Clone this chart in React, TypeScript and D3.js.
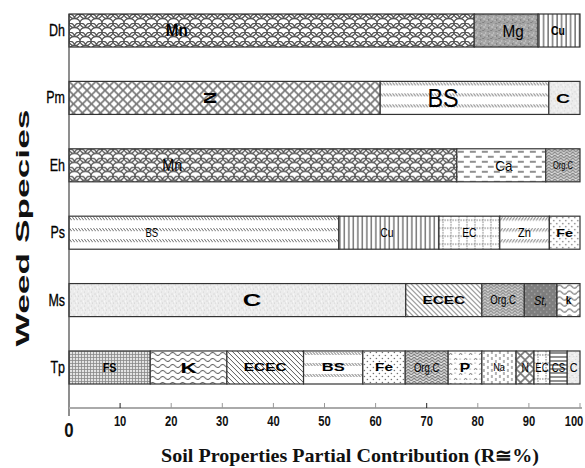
import React from "react";
import * as d3 from "d3";

const species = ["Dh", "Pm", "Eh", "Ps", "Ms", "Tp"];

const dhProps = ["Mn", "Mg", "Cu"];
const dhValues = [79.3, 12.5, 8.2];
const pmProps = ["N", "BS", "C"];
const pmValues = [60.9, 33.0, 6.1];
const ehProps = ["Mn", "Ca", "Org.C"];
const ehValues = [75.9, 17.4, 6.7];
const psProps = ["BS", "Cu", "EC", "Zn", "Fe"];
const psValues = [52.8, 19.6, 11.9, 9.7, 6.0];
const msProps = ["C", "ECEC", "Org.C", "St,", "k"];
const msValues = [65.9, 14.9, 8.3, 6.4, 4.5];
const tpProps = ["FS", "K", "ECEC", "BS", "Fe", "Org.C", "P", "Na", "N", "EC", "CS", "C"];
const tpValues = [15.9, 15.0, 15.0, 11.6, 8.3, 8.4, 6.6, 6.7, 3.5, 3.1, 3.4, 2.5];

const xTicks = [10, 20, 30, 40, 50, 60, 70, 80, 90, 100];

const propSets: Record<string, string[]> = { Dh: dhProps, Pm: pmProps, Eh: ehProps, Ps: psProps, Ms: msProps, Tp: tpProps };
const valueSets: Record<string, number[]> = { Dh: dhValues, Pm: pmValues, Eh: ehValues, Ps: psValues, Ms: msValues, Tp: tpValues };

// label styling (layout only)
type LS = { size: number; sx?: number; bold?: boolean; at?: number; rot?: number; italic?: boolean };
const labelStyle: Record<string, LS> = {
  "Dh:Mn": { size: 16, sx: 0.95, bold: true, at: 21.1 },
  "Dh:Mg": { size: 17, sx: 0.9, at: 86.9 },
  "Dh:Cu": { size: 13, sx: 0.8, bold: true, at: 95.7 },
  "Pm:N": { size: 17, bold: true, at: 27.6, rot: 90 },
  "Pm:BS": { size: 26, sx: 0.9, at: 73.2 },
  "Pm:C": { size: 13, sx: 1.5, bold: true, at: 96.7 },
  "Eh:Mn": { size: 16, sx: 0.9, at: 20.2 },
  "Eh:Ca": { size: 15, sx: 0.9, at: 85.1 },
  "Eh:Org.C": { size: 10, sx: 0.75 },
  "Ps:BS": { size: 12, sx: 0.8, at: 16.2 },
  "Ps:Cu": { size: 13, sx: 0.8, at: 62.2 },
  "Ps:EC": { size: 13, sx: 0.8 },
  "Ps:Zn": { size: 13, sx: 0.85 },
  "Ps:Fe": { size: 11, sx: 1.3, bold: true },
  "Ms:C": { size: 16, sx: 1.6, bold: true, at: 35.8 },
  "Ms:ECEC": { size: 11, sx: 1.4, bold: true },
  "Ms:Org.C": { size: 12, sx: 0.8 },
  "Ms:St,": { size: 13, sx: 0.85, italic: true },
  "Ms:k": { size: 10, bold: true },
  "Tp:FS": { size: 12, sx: 0.9, bold: true },
  "Tp:K": { size: 14, sx: 1.6, bold: true },
  "Tp:ECEC": { size: 11, sx: 1.4, bold: true },
  "Tp:BS": { size: 11, sx: 1.5, bold: true },
  "Tp:Fe": { size: 11, sx: 1.4, bold: true },
  "Tp:Org.C": { size: 12, sx: 0.8 },
  "Tp:P": { size: 12, sx: 1.3, bold: true },
  "Tp:Na": { size: 10, sx: 0.9 },
  "Tp:N": { size: 12, sx: 0.85 },
  "Tp:EC": { size: 12, sx: 0.8 },
  "Tp:CS": { size: 12, sx: 0.8 },
  "Tp:C": { size: 12, sx: 0.9 },
};

const patKey = (p: string) => {
  if (p === "St,") return "St";
  if (p === "k") return "K";
  return p.replace(/\./g, "");
};

const Patterns = () => (
  <defs>
    <pattern id="p-Mn" patternUnits="userSpaceOnUse" width="11" height="9">
      <path d="M-5.5 4.5 A5.5 4.5 0 0 1 5.5 4.5 A5.5 4.5 0 0 1 16.5 4.5 M0 9 A5.5 4.5 0 0 1 11 9 M0 0 A5.5 4.5 0 0 0 11 0" fill="none" stroke="#555" strokeWidth="1.3" />
    </pattern>
    <pattern id="p-Mg" patternUnits="userSpaceOnUse" width="8" height="8">
      <rect width="8" height="8" fill="#a4a4a4" />
      <rect x="0" y="0" width="2" height="1" fill="#808080" />
      <rect x="3" y="2" width="1" height="2" fill="#c4c4c4" />
      <rect x="5" y="1" width="2" height="1" fill="#8a8a8a" />
      <rect x="1" y="4" width="2" height="2" fill="#bdbdbd" />
      <rect x="6" y="5" width="1" height="2" fill="#7a7a7a" />
      <rect x="4" y="6" width="2" height="1" fill="#b8b8b8" />
      <rect x="2" y="7" width="1" height="1" fill="#858585" />
      <rect x="7" y="3" width="1" height="1" fill="#cccccc" />
    </pattern>
    <pattern id="p-Cu" patternUnits="userSpaceOnUse" width="4.5" height="4">
      <line x1="1" y1="0" x2="1" y2="4" stroke="#333" strokeWidth="1" />
    </pattern>
    <pattern id="p-N" patternUnits="userSpaceOnUse" width="9" height="9">
      <path d="M0 0 L9 9 M9 0 L0 9" stroke="#777" strokeWidth="1.6" />
    </pattern>
    <pattern id="p-BS" patternUnits="userSpaceOnUse" width="3" height="11">
      <line x1="0.3" y1="1" x2="2.7" y2="4" stroke="#666" strokeWidth="1" />
    </pattern>
    <pattern id="p-Zn" patternUnits="userSpaceOnUse" width="3" height="11">
      <line x1="2.7" y1="1" x2="0.3" y2="4.5" stroke="#666" strokeWidth="1" />
    </pattern>
    <pattern id="p-C" patternUnits="userSpaceOnUse" width="7" height="7">
      <rect width="7" height="7" fill="#ececec" />
      <rect x="1" y="1" width="1" height="1" fill="#d4d4d4" />
      <rect x="4" y="3" width="2" height="1" fill="#dadada" />
      <rect x="2" y="5" width="1" height="1" fill="#cfcfcf" />
      <rect x="5" y="0" width="1" height="1" fill="#fafafa" />
      <rect x="0" y="3" width="1" height="2" fill="#f8f8f8" />
      <rect x="6" y="5" width="1" height="1" fill="#d8d8d8" />
    </pattern>
    <pattern id="p-Ca" patternUnits="userSpaceOnUse" width="12" height="10">
      <line x1="1" y1="3" x2="7" y2="3" stroke="#444" strokeWidth="1.2" />
      <line x1="7" y1="8" x2="13" y2="8" stroke="#444" strokeWidth="1.2" />
      <line x1="-5" y1="8" x2="1" y2="8" stroke="#444" strokeWidth="1.2" />
    </pattern>
    <pattern id="p-OrgC" patternUnits="userSpaceOnUse" width="6" height="6">
      <rect width="6" height="6" fill="#e6e6e6" />
      <path d="M0 3 L3 0 L6 3 M0 6 L3 3 L6 6" fill="none" stroke="#777" strokeWidth="1.2" />
    </pattern>
    <pattern id="p-EC" patternUnits="userSpaceOnUse" width="8" height="8">
      <path d="M0 4 H8 M4 0 V8" stroke="#666" strokeWidth="0.9" strokeDasharray="1.5 1.2" />
    </pattern>
    <pattern id="p-Fe" patternUnits="userSpaceOnUse" width="6" height="6">
      <circle cx="1.5" cy="1.5" r="0.7" fill="#555" />
      <circle cx="4.5" cy="4.5" r="0.7" fill="#555" />
    </pattern>
    <pattern id="p-ECEC" patternUnits="userSpaceOnUse" width="5" height="5">
      <path d="M0 0 L5 5 M-1 4 L1 6 M4 -1 L6 1" stroke="#555" strokeWidth="1" />
    </pattern>
    <pattern id="p-St" patternUnits="userSpaceOnUse" width="6" height="6">
      <rect width="6" height="6" fill="#7e7e7e" />
      <circle cx="1.5" cy="1.5" r="0.6" fill="#ddd" />
      <circle cx="4.5" cy="4.5" r="0.6" fill="#ccc" />
    </pattern>
    <pattern id="p-K" patternUnits="userSpaceOnUse" width="10" height="6">
      <path d="M0 3 Q2.5 0 5 3 T10 3" fill="none" stroke="#555" strokeWidth="1.1" />
    </pattern>
    <pattern id="p-FS" patternUnits="userSpaceOnUse" width="3" height="3">
      <rect width="3" height="3" fill="#e4e4e4" />
      <path d="M0 0.5 H3 M0.5 0 V3" stroke="#888" strokeWidth="0.8" />
    </pattern>
    <pattern id="p-P" patternUnits="userSpaceOnUse" width="10" height="10">
      <path d="M1 4 L2.5 2 L4 4 M6 9 L7.5 7 L9 9" fill="none" stroke="#666" strokeWidth="0.9" />
      <circle cx="7" cy="2" r="0.6" fill="#666" />
      <circle cx="2" cy="8" r="0.6" fill="#666" />
    </pattern>
    <pattern id="p-Na" patternUnits="userSpaceOnUse" width="8" height="6">
      <line x1="2" y1="0" x2="2" y2="3" stroke="#666" strokeWidth="1" />
      <line x1="6" y1="3" x2="6" y2="6" stroke="#666" strokeWidth="1" />
    </pattern>
    <pattern id="p-CS" patternUnits="userSpaceOnUse" width="4" height="4">
      <line x1="0" y1="2" x2="4" y2="2" stroke="#444" strokeWidth="1.2" />
    </pattern>
  </defs>
);

export default function App() {
  const W = 585;
  const H = 468;
  const x = d3.scaleLinear().domain([0, 100]).range([69, 580]);
  const y = d3.scaleBand<string>().domain(species).range([14, 384]).paddingInner(0.51).paddingOuter(0);
  const bw = y.bandwidth();
  const axisY = 408;

  return (
    <svg width={W} height={H} style={{ position: "absolute", left: 0, top: 0, background: "#fff" }} fontFamily="'Liberation Sans', Arial, sans-serif">
      <Patterns />
      <rect width={W} height={H} fill="#fff" />
      {species.map((sp) => {
        const props = propSets[sp];
        const vals = valueSets[sp];
        const cum = [0, ...d3.cumsum(vals)];
        const y0 = y(sp) as number;
        return (
          <g key={sp}>
            {props.map((p, i) => {
              const x0 = x(cum[i]);
              const x1 = x(cum[i + 1]);
              return (
                <g key={p + i} transform={`translate(${x0},${y0})`}>
                  <rect width={x1 - x0} height={bw} fill="#fff" />
                  <rect width={x1 - x0} height={bw} fill={`url(#p-${patKey(p)})`} stroke="#333" strokeWidth={1.2} />
                </g>
              );
            })}
            {props.map((p, i) => {
              const ls = labelStyle[`${sp}:${p}`] || { size: 12 };
              const at = ls.at !== undefined ? ls.at : (cum[i] + cum[i + 1]) / 2;
              const cx = x(at);
              const cy = y0 + bw / 2;
              const tr = ls.rot
                ? `translate(${cx},${cy}) rotate(${ls.rot})`
                : `translate(${cx},${cy}) scale(${ls.sx || 1},1)`;
              return (
                <text
                  key={"l" + p + i}
                  transform={tr}
                  textAnchor="middle"
                  dy={ls.size * 0.36}
                  fontSize={ls.size}
                  fontWeight={ls.bold ? "bold" : "normal"}
                  fontStyle={ls.italic ? "italic" : "normal"}
                  fill="#000"
                >
                  {p}
                </text>
              );
            })}
            <text transform={`translate(65,${y0 + bw / 2}) scale(0.78,1)`} textAnchor="end" dy={5.5} fontSize={16} fill="#000" stroke="#000" strokeWidth={0.3}>
              {sp}
            </text>
          </g>
        );
      })}
      {/* axes */}
      <line x1={69} y1={14} x2={69} y2={416} stroke="#444" strokeWidth={1.2} />
      <line x1={69} y1={axisY} x2={582} y2={axisY} stroke="#aaa" strokeWidth={2} />
      {xTicks.map((t) => (
        <g key={t}>
          <line x1={x(t)} x2={x(t)} y1={axisY - 5} y2={axisY} stroke={t === 10 || t === 70 ? "#222" : "#999"} strokeWidth={1} />
          <text transform={`translate(${Math.min(x(t), 574)},426) scale(0.8,1)`} textAnchor="middle" fontSize={14} fontWeight="bold" fill="#111">
            {t}
          </text>
        </g>
      ))}
      <text transform={`translate(69,437) scale(0.8,1)`} textAnchor="middle" fontSize={21} fontWeight="bold" fill="#111">
        0
      </text>
      <text
        transform="translate(29,228) rotate(-90)"
        textAnchor="middle"
        fontSize={18}
        fontWeight="bold"
        textLength={237}
        lengthAdjust="spacingAndGlyphs"
        fill="#111"
      >
        Weed Species
      </text>
      <text
        x={350}
        y={462}
        textAnchor="middle"
        fontFamily="'Liberation Serif', 'Times New Roman', serif"
        fontWeight="bold"
        fontSize={19}
        textLength={378}
        lengthAdjust="spacingAndGlyphs"
        fill="#111"
      >
        Soil Properties Partial Contribution (R≅%)
      </text>
    </svg>
  );
}
